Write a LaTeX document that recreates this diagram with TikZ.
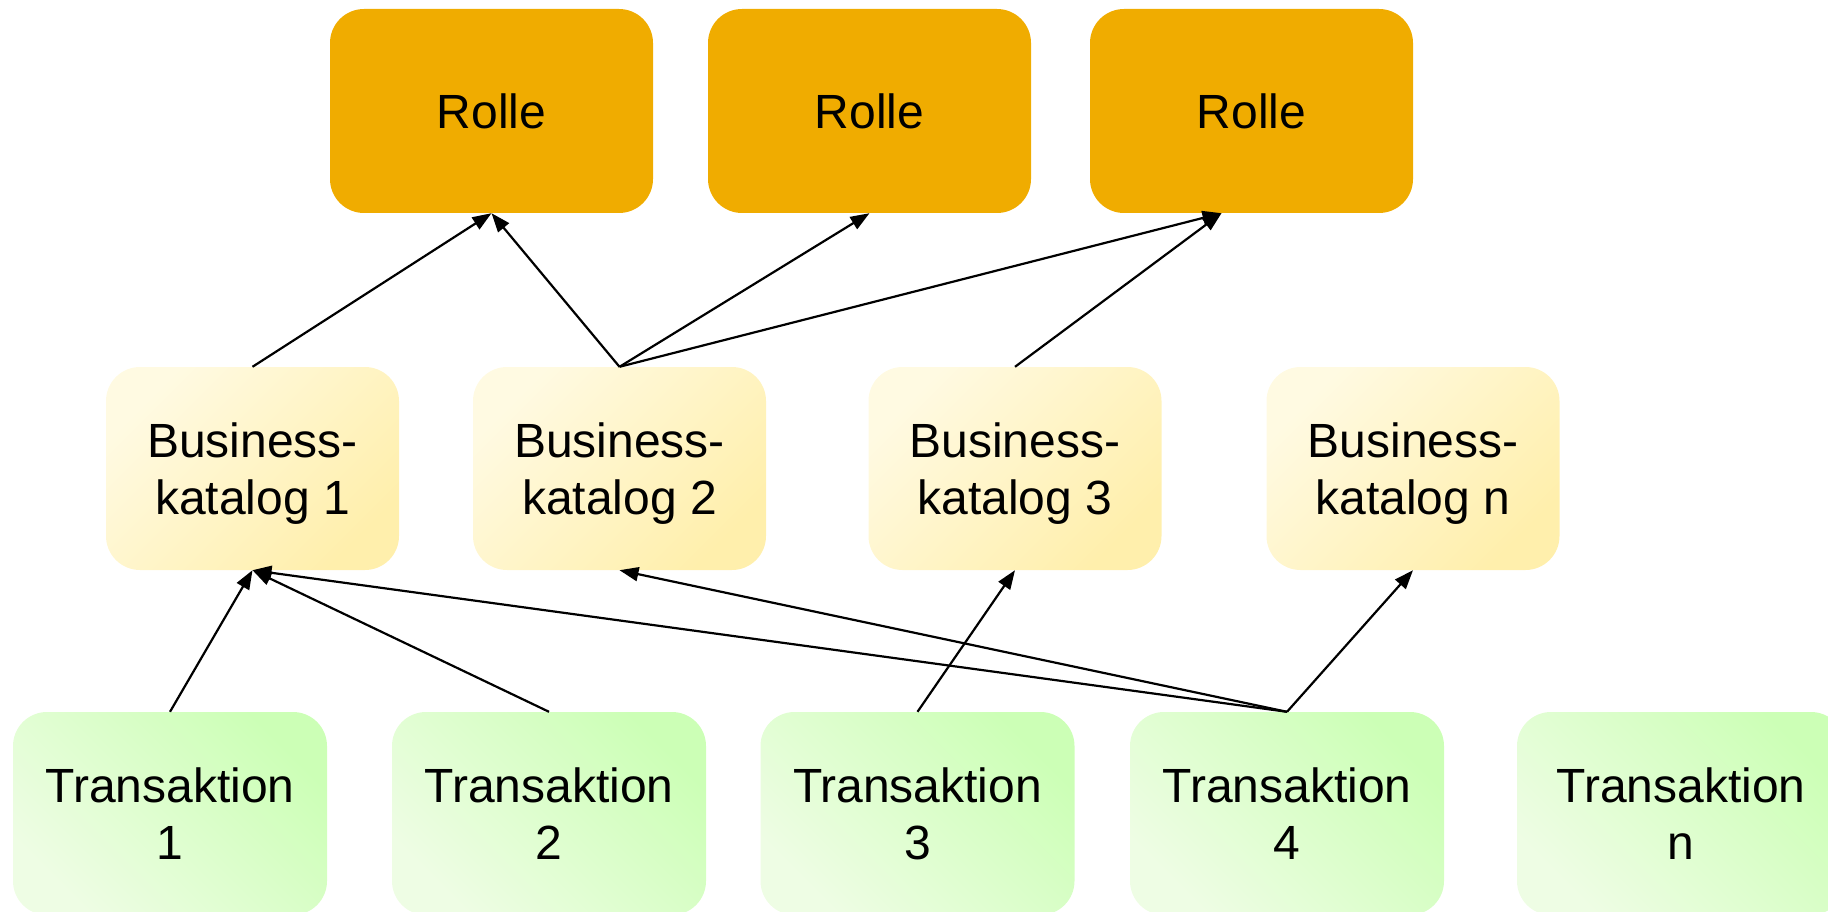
\documentclass[tikz,border=0pt]{standalone}
\usepackage{fontspec}
\setmainfont{Liberation Sans}
\usetikzlibrary{arrows.meta}
\definecolor{rolle}{RGB}{240,172,0}
\definecolor{bklight}{RGB}{255,250,226}
\definecolor{bkdark}{RGB}{255,239,172}
\definecolor{trlight}{RGB}{238,253,228}
\definecolor{trdark}{RGB}{204,255,182}
\tikzset{
  box/.style={rectangle, rounded corners=34pt, inner sep=0pt, align=center,
    font=\fontsize{48}{57}\selectfont, text=black},
  rollebox/.style={box, fill=rolle, minimum width=323pt, minimum height=204pt},
  katbox/.style={box, minimum width=293pt, minimum height=203pt,
    top color=bklight, bottom color=bkdark, shading angle=45},
  trbox/.style={box, minimum width=314pt, minimum height=203pt,
    top color=trdark, bottom color=trlight, shading angle=-45},
  link/.style={line width=2.2pt, -{Triangle[length=19pt,width=14pt]}}
}
\begin{document}
\begin{tikzpicture}[x=1pt,y=-1pt]
\useasboundingbox (0,0) rectangle (1828,912);
\clip (0,0) rectangle (1828,912);
\node[rollebox] (r1) at (491.5,111) {Rolle};
\node[rollebox] (r2) at (869.5,111) {Rolle};
\node[rollebox] (r3) at (1251.5,111) {Rolle};
\node[katbox] (b1) at (252.5,468.5) {Business-\\\raisebox{0pt}[\height][0pt]{katalog 1}};
\node[katbox] (b2) at (619.5,468.5) {Business-\\\raisebox{0pt}[\height][0pt]{katalog 2}};
\node[katbox] (b3) at (1015,468.5) {Business-\\\raisebox{0pt}[\height][0pt]{katalog 3}};
\node[katbox] (bn) at (1413,468.5) {Business-\\\raisebox{0pt}[\height][0pt]{katalog n}};
\node[trbox] (t1) at (170,813.5) {Transaktion\\1};
\node[trbox] (t2) at (549,813.5) {Transaktion\\2};
\node[trbox] (t3) at (917.5,813.5) {Transaktion\\3};
\node[trbox] (t4) at (1287,813.5) {Transaktion\\4};
\node[trbox, minimum width=328pt] (tn) at (1681,813.5) {Transaktion\\n};
\coordinate (r3in) at ([xshift=-30pt]r3.south);
\draw[link] (b1.north) -- (r1.south);
\draw[link] (b2.north) -- (r1.south);
\draw[link] (b2.north) -- (r2.south);
\draw[link] (b2.north) -- (r3in);
\draw[link] (b3.north) -- (r3in);
\draw[link] (t1.north) -- (b1.south);
\draw[link] (t2.north) -- (b1.south);
\draw[link] (t4.north) -- (b1.south);
\draw[link] (t4.north) -- (b2.south);
\draw[link] (t3.north) -- (b3.south);
\draw[link] (t4.north) -- (bn.south);
\end{tikzpicture}
\end{document}
